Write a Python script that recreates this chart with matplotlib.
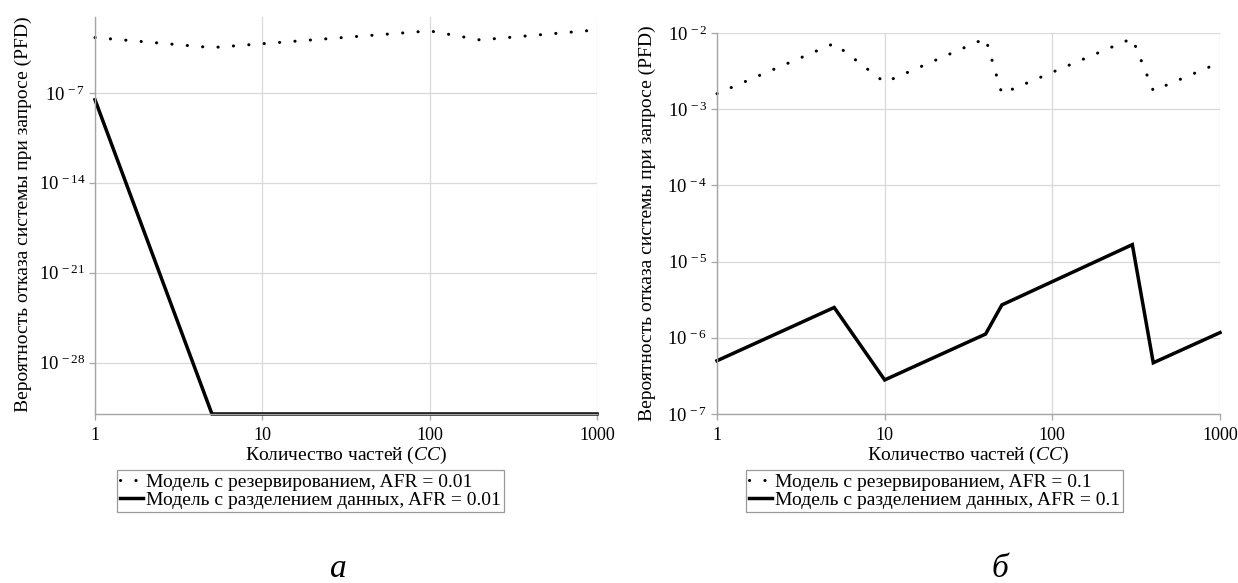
import numpy as np
import matplotlib
matplotlib.use("Agg")
import matplotlib.pyplot as plt
from matplotlib.ticker import FixedLocator, FuncFormatter, NullLocator
from matplotlib.lines import Line2D

plt.rcParams["font.family"] = ["Liberation Serif", "DejaVu Serif"]
plt.rcParams["mathtext.fontset"] = "custom"
plt.rcParams["mathtext.rm"] = "Liberation Serif"
plt.rcParams["mathtext.it"] = "Liberation Serif:italic"

# ── Data ──────────────────────────────────────────────────────────────────────
# (а) AFR = 0.01
n_red_a = [1, 5, 100, 200, 1000]
pfd_red_a = [2.0e-3, 3.3e-4, 6.6e-3, 1.3e-3, 7.9e-3]
n_split_a = [1, 5, 10, 100, 1000]
pfd_split_a = [2.9e-8, 1e-32, 1e-32, 1e-32, 1e-32]

# (б) AFR = 0.1
n_red_b = [1, 5, 10, 40, 50, 300, 400, 1000]
pfd_red_b = [1.6e-3, 7.3e-3, 2.25e-3, 8.5e-3, 1.6e-3, 8.5e-3, 1.75e-3, 4.1e-3]
n_split_b = [1, 5, 10, 40, 50, 300, 400, 1000]
pfd_split_b = [5.0e-7, 2.5e-6, 2.8e-7, 1.12e-6, 2.7e-6, 1.67e-5, 4.7e-7, 1.17e-6]

x_ticks = [1, 10, 100, 1000]
y_ticks_a = [1e-7, 1e-14, 1e-21, 1e-28]
y_ticks_b = [1e-2, 1e-3, 1e-4, 1e-5, 1e-6, 1e-7]

labels_a = ["Модель с резервированием, AFR = 0.01",
            "Модель с разделением данных, AFR = 0.01"]
labels_b = ["Модель с резервированием, AFR = 0.1",
            "Модель с разделением данных, AFR = 0.1"]

YLABEL = "Вероятность отказа системы при запросе (PFD)"
XLABEL = r"Количество частей ($\mathit{CC}$)"

# ── Figure ────────────────────────────────────────────────────────────────────
W, H = 1238, 583
fig = plt.figure(figsize=(W / 100, H / 100), dpi=100)

DOT = (0, (0.05, 5.0))
GRID = "#d9d9d9"
SPINE = "#a6a6a6"


def pow10(v, pos):
    return r"$10^{\,%d}$" % int(round(np.log10(v)))


def style_axes(ax, yticks, ylim):
    ax.set_xscale("log")
    ax.set_yscale("log")
    ax.set_xlim(1, 1000)
    ax.set_ylim(*ylim)
    ax.xaxis.set_major_locator(FixedLocator(x_ticks))
    ax.xaxis.set_major_formatter(FuncFormatter(lambda v, p: "%d" % v))
    ax.xaxis.set_minor_locator(NullLocator())
    ax.yaxis.set_major_locator(FixedLocator(yticks))
    ax.yaxis.set_major_formatter(FuncFormatter(pow10))
    ax.yaxis.set_minor_locator(NullLocator())
    ax.grid(True, color=GRID, lw=0.9)
    ax.set_axisbelow(True)
    for s in ("top", "right"):
        ax.spines[s].set_visible(False)
    for s in ("left", "bottom"):
        ax.spines[s].set_color(SPINE)
        ax.spines[s].set_linewidth(1.0)
    ax.tick_params(axis="both", which="major", length=4, width=0.9,
                   color=SPINE)
    ax.tick_params(axis="x", pad=5, labelsize=13)
    ax.tick_params(axis="y", pad=3, labelsize=13.5)


def add_legend(ax, labels, x0):
    handles = [
        Line2D([], [], color="black", lw=2.2, linestyle=DOT, dash_capstyle="round"),
        Line2D([], [], color="black", lw=2.5),
    ]
    leg = fig.legend(handles, labels, loc="upper left",
                     bbox_to_anchor=(x0 / W, 1 - 470 / H),
                     fontsize=14, frameon=True, fancybox=False,
                     edgecolor="#808080", borderpad=0.15, labelspacing=0.05,
                     handlelength=1.2, handletextpad=0.15, borderaxespad=0)
    leg.get_frame().set_linewidth(0.9)


# (а)
ax_a = fig.add_axes([95 / W, 1 - 414 / H, 502 / W, 397 / H])
style_axes(ax_a, y_ticks_a, (1e-32, 10 ** -1.1))
ax_a.plot(n_red_a, pfd_red_a, color="black", lw=2.2, linestyle=DOT,
          dash_capstyle="round", clip_on=False)
ax_a.plot(n_split_a, pfd_split_a, color="black", lw=2.5, clip_on=False,
          solid_joinstyle="miter")
ax_a.set_xlabel(XLABEL, fontsize=14, labelpad=1)
fig.text(23 / W, 1 - 214 / H, YLABEL, rotation=90, ha="center", va="center",
         fontsize=14)
add_legend(ax_a, labels_a, 117)
fig.text(338 / W, 1 - 577 / H, "а", style="italic", fontsize=24,
         ha="center", va="baseline")

# (б)
ax_b = fig.add_axes([717 / W, 1 - 414 / H, 503 / W, 381 / H])
style_axes(ax_b, y_ticks_b, (1e-7, 1e-2))
ax_b.plot(n_red_b, pfd_red_b, color="black", lw=2.2, linestyle=DOT,
          dash_capstyle="round", clip_on=False)
ax_b.plot(n_split_b, pfd_split_b, color="black", lw=2.5, clip_on=False,
          solid_joinstyle="miter")
ax_b.set_xlabel(XLABEL, fontsize=14, labelpad=1)
fig.text(647 / W, 1 - 223 / H, YLABEL, rotation=90, ha="center", va="center",
         fontsize=14)
add_legend(ax_b, labels_b, 746)
fig.text(1000 / W, 1 - 577 / H, "б", style="italic", fontsize=24,
         ha="center", va="baseline")

fig.savefig("out.png", dpi=100)
